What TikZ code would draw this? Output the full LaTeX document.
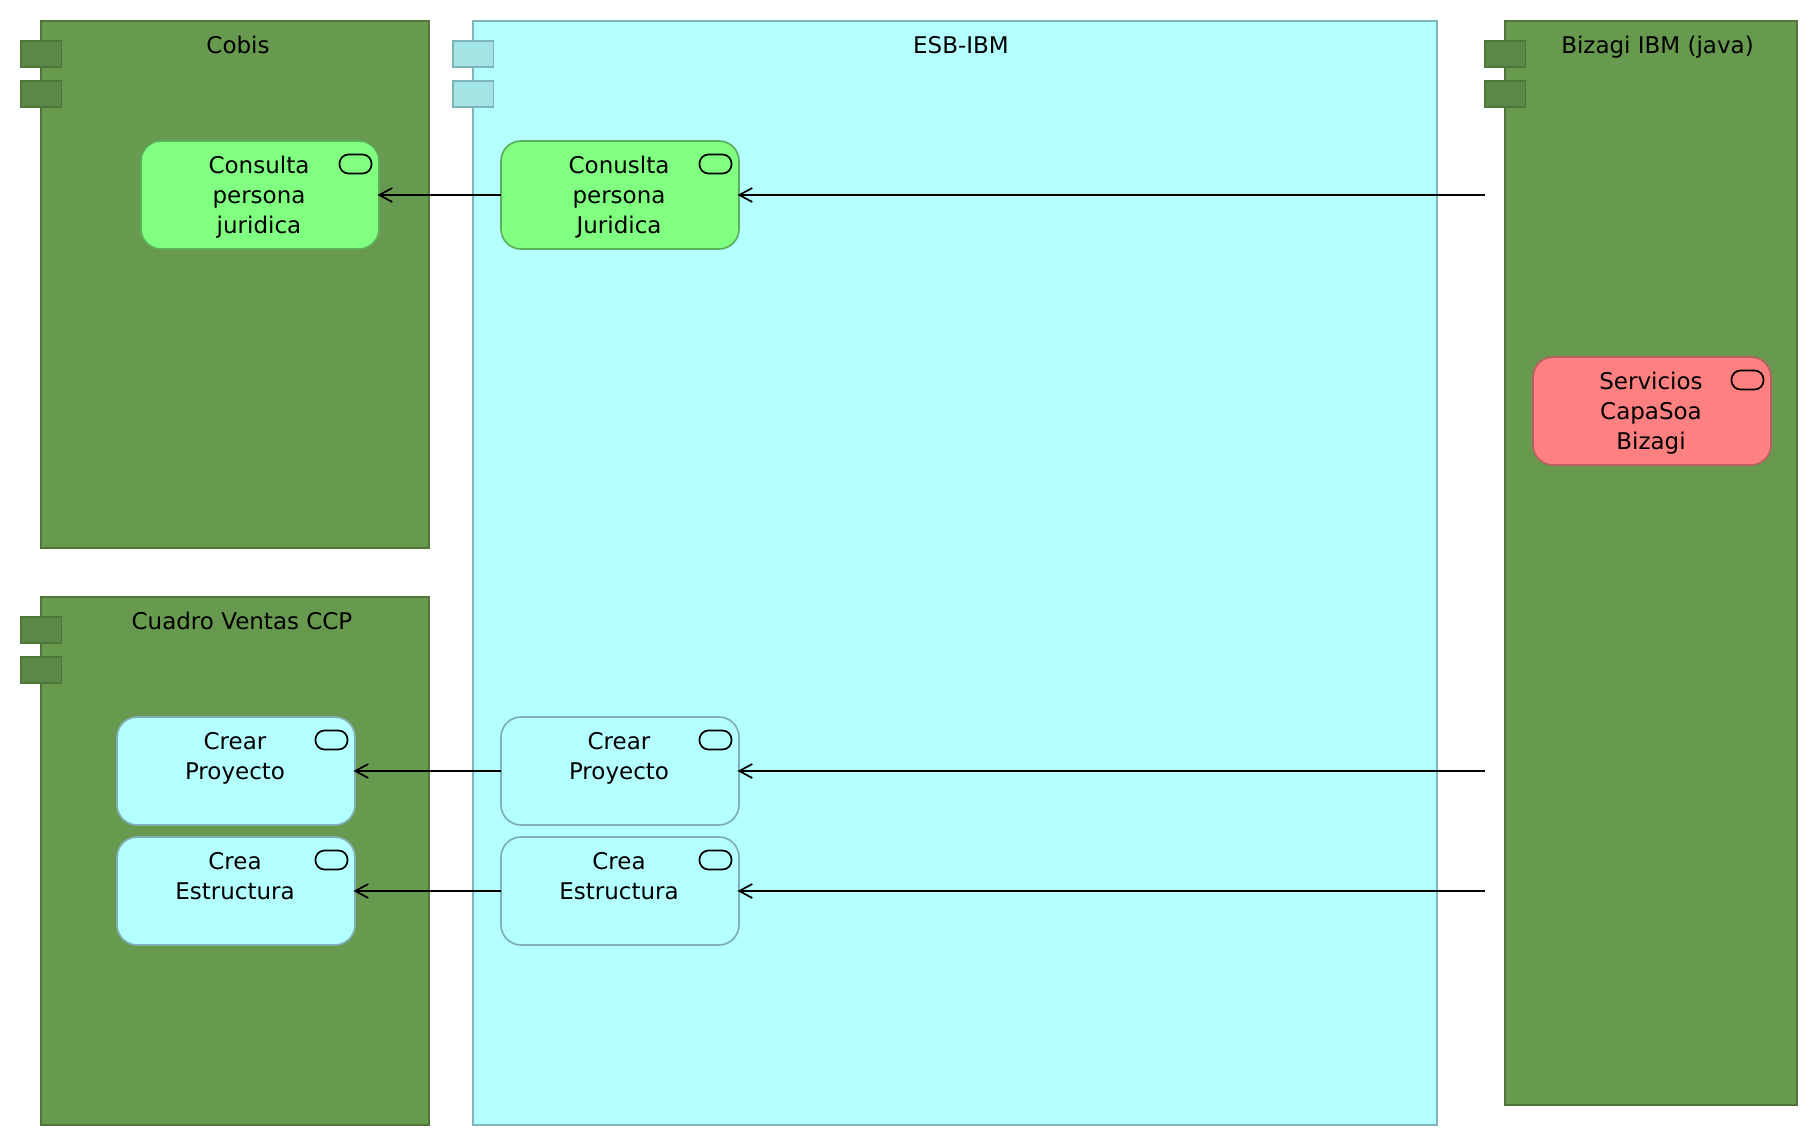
\documentclass[tikz,border=0pt]{standalone}
\usepackage{fontspec}
\setmainfont{DejaVu Sans}
\usetikzlibrary{arrows.meta,calc}
\definecolor{grpgreen}{HTML}{67994E}
\definecolor{grpgreenline}{HTML}{4F7538}
\definecolor{tabgreen}{HTML}{5A8947}
\definecolor{esbfill}{HTML}{B4FFFF}
\definecolor{esbline}{HTML}{7FB4BA}
\definecolor{tabesb}{HTML}{A3E5E5}
\definecolor{svcgreen}{HTML}{80FF80}
\definecolor{svcgreenline}{HTML}{5CB05C}
\definecolor{svccyan}{HTML}{B4FFFF}
\definecolor{svccyanline}{HTML}{7FAEB4}
\definecolor{svcred}{HTML}{FF8080}
\definecolor{svcredline}{HTML}{B86060}
\newcommand{\fl}{\rule{0pt}{20pt}}
\tikzset{
  lbl/.style={font=\fontsize{23}{30}\selectfont, text=black, align=center, inner sep=0pt, outer sep=0pt, anchor=north},
  comp/.style={draw, line width=1.7pt, rectangle, inner sep=0pt, outer sep=0pt, anchor=north west},
  greencomp/.style={comp, fill=grpgreen, draw=grpgreenline},
  esbcomp/.style={comp, fill=esbfill, draw=esbline},
  comptab/.style={rectangle, draw, line width=1.7pt, minimum width=40.5pt, minimum height=26pt, inner sep=0pt, outer sep=0pt, anchor=north west},
  greentab/.style={comptab, fill=tabgreen, draw=grpgreenline},
  esbtab/.style={comptab, fill=tabesb, draw=esbline},
  svcbox/.style={rectangle, rounded corners=20pt, draw, line width=1.7pt, minimum width=238pt, minimum height=108pt, inner sep=0pt, outer sep=0pt, anchor=north west},
  sgreen/.style={svcbox, fill=svcgreen, draw=svcgreenline},
  scyan/.style={svcbox, fill=svccyan, draw=svccyanline},
  sred/.style={svcbox, fill=svcred, draw=svcredline},
  pill/.style={rectangle, rounded corners=9pt, draw=black, line width=1.7pt, minimum width=32pt, minimum height=19pt, inner sep=0pt, outer sep=0pt, anchor=north east},
  flow/.style={draw=black, line width=1.7pt, shorten >=-1.5pt, -{Straight Barb[length=13pt,width=14pt,line width=1.7pt]}},
}
% #1 name, #2 x, #3 y, #4 style, #5 text
\newcommand{\svc}[5]{%
  \node[#4] (#1) at (#2,#3) {};
  \node[pill] (#1pill) at ($(#1.north east)+(-7.5,13.5)$) {};
  \node[lbl] (#1text) at ($(#1.north)+(-1,12.3)$) {\fl #5};
}
\newcommand{\grp}[8]{% name,x1,y1,w,h,style,tabstyle,tabx
  \node[#6, minimum width=#4pt, minimum height=#5pt] (#1) at (#2,#3) {};
  \node[#7] (#1taba) at (#8,#3+20) {};
  \node[#7] (#1tabb) at (#8,#3+60) {};
}
\begin{document}
\begin{tikzpicture}[x=1pt,y=-1pt]
\useasboundingbox (0,0) rectangle (1818,1146);
\fill[white] (0,0) rectangle (1818,1146);
\grp{cobis}{41}{21}{388}{527}{greencomp}{greentab}{21}
\grp{cuadro}{41}{597}{388}{528}{greencomp}{greentab}{21}
\grp{esb}{473}{21}{964}{1104}{esbcomp}{esbtab}{453}
\grp{bizagi}{1505}{21}{292}{1084}{greencomp}{greentab}{1485}
\node[lbl] (cobislabel) at (238,33) {\fl Cobis};
\node[lbl] (esblabel) at (961,33) {\fl ESB-IBM};
\node[lbl] (bizagilabel) at (1657.5,33) {\fl Bizagi IBM (java)};
\node[lbl] (cuadrolabel) at (242,609) {\fl Cuadro Ventas CCP};
\svc{cobisq}{141}{141}{sgreen}{Consulta\\persona\\juridica}
\svc{esbq}{501}{141}{sgreen}{Conuslta\\persona\\Juridica}
\svc{red}{1533}{357}{sred}{Servicios\\CapaSoa\\Bizagi}
\svc{cuadrop}{117}{717}{scyan}{Crear\\Proyecto}
\svc{esbp}{501}{717}{scyan}{Crear\\Proyecto}
\svc{cuadroe}{117}{837}{scyan}{Crea\\Estructura}
\svc{esbe}{501}{837}{scyan}{Crea\\Estructura}
\coordinate (srcq) at (1485,195);
\coordinate (srcp) at (1485,771);
\coordinate (srce) at (1485,891);
\draw[flow] (srcq) -- (esbq.east);
\draw[flow] (esbq.west) -- (cobisq.east);
\draw[flow] (srcp) -- (esbp.east);
\draw[flow] (esbp.west) -- (cuadrop.east);
\draw[flow] (srce) -- (esbe.east);
\draw[flow] (esbe.west) -- (cuadroe.east);
\end{tikzpicture}
\end{document}
